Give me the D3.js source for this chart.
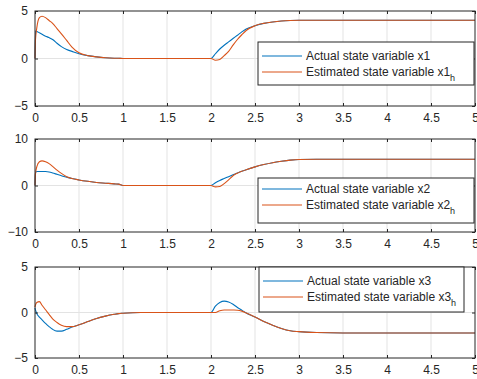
<!DOCTYPE html>
<html>
<head>
<meta charset="utf-8">
<script src="https://cdn.jsdelivr.net/npm/d3@7"></script>
<style>
  body { margin: 0; background: #fff; }
  text { font-family: "Liberation Sans", Arial, sans-serif; fill: #262626; }
</style>
</head>
<body>
<div id="chart"></div>
<script>
// time samples (s)
var t = [0, 0.005, 0.02, 0.05, 0.08, 0.12, 0.16, 0.2, 0.25, 0.3, 0.36, 0.42, 0.5, 0.6, 0.7, 0.8, 0.9, 0.95, 1.0, 1.2, 1.5, 2.0,
  2.05, 2.1, 2.15, 2.2, 2.25, 2.3, 2.35, 2.4, 2.5, 2.6, 2.7, 2.8, 2.9, 3.0, 3.2, 3.5, 4.0, 4.5, 5.0];

// x1 actual / estimated
var x1 = [0, 2.9, 2.85, 2.7, 2.55, 2.35, 2.2, 2.0, 1.6, 1.25, 0.95, 0.75, 0.5, 0.3, 0.17, 0.08, 0.03, 0.02, 0, 0, 0, 0,
  0.5, 1.0, 1.4, 1.75, 2.1, 2.45, 2.8, 3.1, 3.45, 3.7, 3.85, 3.95, 4.0, 4.02, 4.03, 4.03, 4.03, 4.03, 4.03];
var x1h = [0, 1.9, 3.2, 4.3, 4.45, 4.3, 4.0, 3.7, 3.15, 2.6, 1.9, 1.2, 0.6, 0.3, 0.17, 0.08, 0.03, 0.02, 0, 0, 0, 0,
  -0.18, -0.1, 0.3, 0.75, 1.4, 2.0, 2.5, 2.95, 3.45, 3.7, 3.85, 3.95, 4.0, 4.02, 4.03, 4.03, 4.03, 4.03, 4.03];

// x2 actual / estimated
var x2 = [0, 2.7, 3.0, 3.0, 3.0, 3.0, 2.9, 2.7, 2.4, 2.1, 1.8, 1.5, 1.2, 0.9, 0.65, 0.5, 0.35, 0.3, 0, 0, 0, 0,
  0.6, 1.1, 1.5, 1.9, 2.3, 2.7, 3.05, 3.4, 4.0, 4.5, 4.9, 5.2, 5.45, 5.6, 5.65, 5.65, 5.65, 5.65, 5.65];
var x2h = [0, 2.4, 4.0, 5.1, 5.3, 5.1, 4.7, 4.1, 3.3, 2.6, 1.9, 1.5, 1.2, 0.9, 0.65, 0.5, 0.35, 0.3, 0, 0, 0, 0,
  -0.3, -0.2, 0.4, 1.2, 2.1, 2.65, 3.05, 3.4, 4.0, 4.5, 4.9, 5.2, 5.45, 5.6, 5.65, 5.65, 5.65, 5.65, 5.65];

// x3 actual / estimated
var x3 = [0.5, 0.3, -0.1, -0.5, -0.8, -1.2, -1.55, -1.85, -2.05, -2.05, -1.85, -1.6, -1.35, -1.0, -0.65, -0.4, -0.2, -0.12, -0.08, 0, 0, 0,
  0.7, 1.1, 1.25, 1.15, 0.9, 0.55, 0.25, -0.05, -0.5, -1.0, -1.4, -1.75, -2.0, -2.1, -2.2, -2.25, -2.25, -2.25, -2.25];
var x3h = [0.6, 0.8, 1.1, 1.2, 0.8, 0.3, -0.2, -0.7, -1.1, -1.4, -1.55, -1.55, -1.35, -1.0, -0.65, -0.4, -0.2, -0.12, -0.08, 0, 0, 0,
  0, 0.2, 0.28, 0.28, 0.27, 0.25, 0.15, -0.05, -0.5, -1.0, -1.4, -1.75, -2.0, -2.1, -2.2, -2.25, -2.25, -2.25, -2.25];

var xTicks = [0, 0.5, 1, 1.5, 2, 2.5, 3, 3.5, 4, 4.5, 5];
var names = ["x1", "x2", "x3"];

// one entry per subplot (layout only)
var panels = [
  { act: x1, est: x1h, yDom: [-5, 5], yTicks: [-5, 0, 5], top: 11, bottom: 106,
    leg: { x: 258, y: 42, w: 216, h: 43, r1: 56, r2: 72 } },
  { act: x2, est: x2h, yDom: [-10, 10], yTicks: [-10, 0, 10], top: 139, bottom: 232,
    leg: { x: 258, y: 178, w: 216, h: 45, r1: 189, r2: 205 } },
  { act: x3, est: x3h, yDom: [-5, 5], yTicks: [-5, 0, 5], top: 267, bottom: 358,
    leg: { x: 259, y: 267, w: 205, h: 45, r1: 281, r2: 297 } }
];

var W = 477, H = 379;
var left = 35, right = 475;
var blue = "#0072BD", orange = "#D95319";

var svg = d3.select("#chart").append("svg")
  .attr("width", W)
  .attr("height", H);

var x = d3.scaleLinear().domain([0, 5]).range([left, right]);

panels.forEach(function (p, i) {
  var y = d3.scaleLinear().domain(p.yDom).range([p.bottom, p.top]);
  var g = svg.append("g");

  // grid
  g.selectAll(".vg").data(xTicks.slice(1, -1)).enter().append("line")
    .attr("x1", function (d) { return x(d); }).attr("x2", function (d) { return x(d); })
    .attr("y1", p.top).attr("y2", p.bottom)
    .attr("stroke", "#e3e3e3").attr("stroke-width", 1);
  g.selectAll(".hg").data(p.yTicks.slice(1, -1)).enter().append("line")
    .attr("x1", left).attr("x2", right)
    .attr("y1", function (d) { return y(d); }).attr("y2", function (d) { return y(d); })
    .attr("stroke", "#e3e3e3").attr("stroke-width", 1);

  // curves
  var line = d3.line()
    .x(function (d, k) { return x(t[k]); })
    .y(function (d) { return y(d); })
    .curve(d3.curveMonotoneX);

  g.append("path").datum(p.act)
    .attr("d", line).attr("fill", "none")
    .attr("stroke", blue).attr("stroke-width", 1.1);
  g.append("path").datum(p.est)
    .attr("d", line).attr("fill", "none")
    .attr("stroke", orange).attr("stroke-width", 1.1);

  // axes (ticks inward, box on)
  g.append("g")
    .attr("transform", "translate(0," + p.bottom + ")")
    .call(d3.axisBottom(x).tickValues(xTicks).tickSize(-3).tickPadding(7).tickFormat(d3.format("")))
    .call(function (a) { a.select(".domain").remove(); });
  g.append("g")
    .attr("transform", "translate(0," + p.top + ")")
    .call(d3.axisTop(x).tickValues(xTicks).tickSize(-3).tickFormat(""))
    .call(function (a) { a.select(".domain").remove(); });
  g.append("g")
    .attr("transform", "translate(" + left + ",0)")
    .call(d3.axisLeft(y).tickValues(p.yTicks).tickSize(-3).tickPadding(7))
    .call(function (a) { a.select(".domain").remove(); });
  g.append("g")
    .attr("transform", "translate(" + right + ",0)")
    .call(d3.axisRight(y).tickValues(p.yTicks).tickSize(-3).tickFormat(""))
    .call(function (a) { a.select(".domain").remove(); });

  g.selectAll(".tick line").attr("stroke", "#262626");
  g.selectAll(".tick text")
    .style("font-size", "12px")
    .style("font-family", "'Liberation Sans', Arial, sans-serif")
    .attr("fill", "#262626");

  g.append("rect")
    .attr("x", left).attr("y", p.top)
    .attr("width", right - left).attr("height", p.bottom - p.top)
    .attr("fill", "none").attr("stroke", "#262626").attr("stroke-width", 1);

  // legend
  var L = p.leg;
  var lg = g.append("g");
  lg.append("rect")
    .attr("x", L.x).attr("y", L.y).attr("width", L.w).attr("height", L.h)
    .attr("fill", "#fff").attr("stroke", "#262626").attr("stroke-width", 1);
  [[L.r1, blue], [L.r2, orange]].forEach(function (r) {
    lg.append("line")
      .attr("x1", L.x + 4).attr("x2", L.x + 44)
      .attr("y1", r[0]).attr("y2", r[0])
      .attr("stroke", r[1]).attr("stroke-width", 1.1);
  });
  lg.append("text")
    .attr("x", L.x + 48).attr("y", L.r1 + 4)
    .style("font-size", "12px")
    .text("Actual state variable " + names[i]);
  var est = lg.append("text")
    .attr("x", L.x + 48).attr("y", L.r2 + 4)
    .style("font-size", "12px");
  est.append("tspan").text("Estimated state variable " + names[i]);
  est.append("tspan").attr("dy", 5).style("font-size", "9px").text("h");
});
</script>
</body>
</html>
